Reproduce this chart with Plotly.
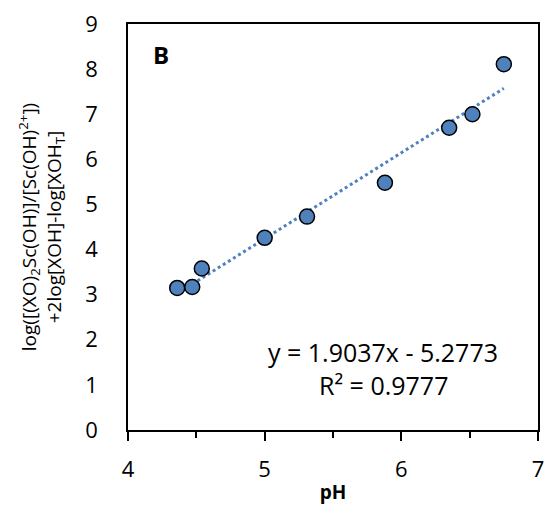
import plotly.graph_objects as go

# Data
ph = [4.36, 4.47, 4.54, 5.00, 5.31, 5.88, 6.35, 6.52, 6.75]
logk = [3.15, 3.17, 3.58, 4.26, 4.73, 5.48, 6.70, 7.00, 8.11]

slope = 1.9037
intercept = -5.2773
r2 = 0.9777

x_ticks = [4, 5, 6, 7]
y_ticks = list(range(0, 10))

xmin, xmax = min(ph), max(ph)
trend_x = [xmin, xmax]
trend_y = [slope * v + intercept for v in trend_x]

blue = "#4F81BD"
font_family = "Open Sans, Lato, sans-serif"

fig = go.Figure()
fig.add_trace(go.Scatter(
    x=trend_x, y=trend_y, mode="lines",
    line=dict(color=blue, width=3, dash="dot"),
    showlegend=False, hoverinfo="skip"))
fig.add_trace(go.Scatter(
    x=ph, y=logk, mode="markers",
    marker=dict(size=15, color=blue, line=dict(color="black", width=1.5)),
    showlegend=False))

fig.update_layout(
    width=548, height=509,
    margin=dict(l=128, r=10, t=24, b=79),
    paper_bgcolor="white", plot_bgcolor="white",
    font=dict(family=font_family, color="black", size=21),
    xaxis=dict(
        range=[4, 7], tickvals=x_ticks, showgrid=False, zeroline=False,
        showline=True, linecolor="black", linewidth=1.5, mirror=True,
        ticks="outside", ticklen=9, tickwidth=1.5, tickcolor="black",
        minor=dict(dtick=0.5, tick0=4, ticks="outside", ticklen=6, tickwidth=1.5, tickcolor="black"),
        tickfont=dict(size=22), ticklabelstandoff=10, automargin=False,
        ticklabeloverflow="allow",
        title=dict(text="<b>pH</b>", font=dict(size=19), standoff=4),
    ),
    yaxis=dict(
        range=[0, 9], tickvals=y_ticks, showgrid=False, zeroline=False,
        showline=True, linecolor="black", linewidth=1.5, mirror=True,
        ticks="", tickfont=dict(size=22), ticklabelstandoff=24, automargin=False,
        ticklabeloverflow="allow",
        title=dict(
            text="log([(XO)<sub>2</sub>Sc(OH)]/[Sc(OH)<sup>2+</sup>])<br>+2log[XOH]-log[XOH<sub>T</sub>]",
            font=dict(size=19), standoff=19),
    ),
    annotations=[
        dict(text="<b>B</b>", xref="paper", yref="paper", x=(161 - 128) / 410, y=(430 - 55) / 406,
             showarrow=False, font=dict(size=24), xanchor="center", yanchor="middle"),
        dict(text=f"y = {slope}x - {abs(intercept)}", xref="paper", yref="paper",
             x=(383 - 128) / 410, y=(430 - 352) / 406, showarrow=False,
             font=dict(size=25), xanchor="center", yanchor="middle"),
        dict(text=f"R² = {r2}", xref="paper", yref="paper",
             x=(383 - 128) / 410, y=(430 - 385) / 406, showarrow=False,
             font=dict(size=25), xanchor="center", yanchor="middle"),
    ],
)

fig.write_html(
    "out.html",
    config={"displayModeBar": False},
    post_script="document.documentElement.style.overflow='hidden';"
                "document.body.style.margin='0';document.body.style.overflow='hidden';",
)
